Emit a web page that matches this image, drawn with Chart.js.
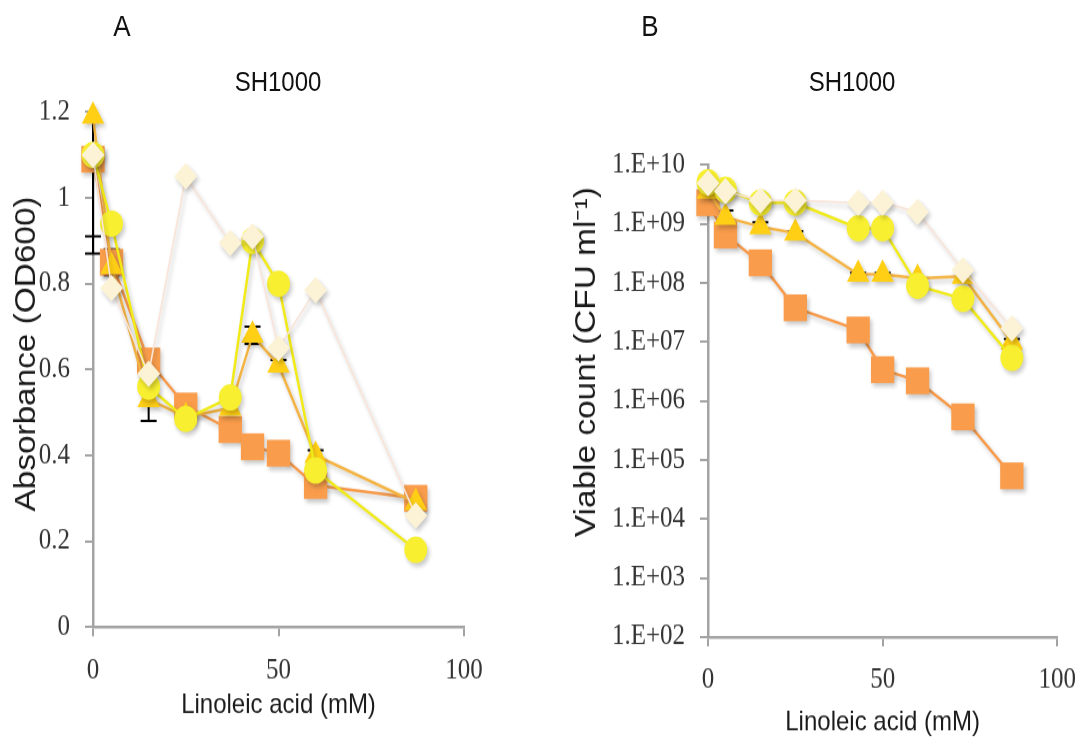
<!DOCTYPE html>
<html>
<head>
<meta charset="utf-8">
<title>SH1000 linoleic acid</title>
<script src="https://cdn.jsdelivr.net/npm/chart.js@4.4.0/dist/chart.umd.min.js"></script>
<style>
  html, body { margin: 0; padding: 0; background: #fff; }
  /* the source figure is stretched vertically, so the whole stage is too */
  #stage { position: absolute; left: 0; top: 0; width: 1091px; height: 643px; transform: scaleY(1.15); transform-origin: 0 0; }
  #stage canvas { position: absolute; top: 0; }
  .lbl { position: absolute; font-family: 'Liberation Sans', Arial, sans-serif; color: #111; text-align: center; white-space: nowrap; }
</style>
</head>
<body>
<div id="stage">
  <div class="lbl" style="left:92px;width:60px;top:8.7px;font-size:26px;line-height:26px">A</div>
  <div class="lbl" style="left:620px;width:60px;top:8.7px;font-size:26px;line-height:26px">B</div>
  <div class="lbl" style="left:208px;width:140px;top:59.3px;font-size:24px;line-height:24px">SH1000</div>
  <div class="lbl" style="left:782px;width:140px;top:59.3px;font-size:24px;line-height:24px">SH1000</div>
  <canvas id="chartA" width="545" height="643" style="left:0"></canvas>
  <canvas id="chartB" width="546" height="643" style="left:545px"></canvas>
</div>
<script>
// Panel A: absorbance
const xAbs = [0, 5, 15, 25, 37, 43, 50, 60, 87];
const absSquare   = [1.09, 0.85, 0.62, 0.515, 0.46, 0.42, 0.405, 0.33, 0.30];
const absTriangle = [1.19, 0.84, 0.53, 0.49, 0.51, 0.68, 0.61, 0.40, 0.29];
const absCircle   = [1.10, 0.94, 0.56, 0.485, 0.535, 0.90, 0.80, 0.365, 0.18];
const absDiamond  = [1.10, 0.79, 0.59, 1.05, 0.895, 0.91, 0.65, 0.785, 0.26];
const absErrSquare   = [null, 0.03, null, null, null, null, null, null, null];
const absErrTriangle = [0.32, null, 0.05, null, null, 0.02, 0.012, 0.012, null];
const absErrCircle   = [0.19, null, null, null, null, null, null, null, null];
const absTicks = [0, 0.2, 0.4, 0.6, 0.8, 1, 1.2];
const absTickLabels = ['0', '0.2', '0.4', '0.6', '0.8', '1', '1.2'];

// Panel B: viable count
const xCfu = [0, 5, 15, 25, 43, 50, 60, 73, 87];
const cfuSquare   = [2.3e9, 6.5e8, 2.2e8, 3.8e7, 1.6e7, 3.4e6, 2.2e6, 5.4e5, 5.4e4];
const cfuTriangle = [3.6e9, 1.3e9, 9.0e8, 7.0e8, 1.4e8, 1.4e8, 1.2e8, 1.3e8, 1.0e7];
const cfuCircle   = [5.1e9, 3.8e9, 2.3e9, 2.3e9, 8.5e8, 8.5e8, 9.0e7, 5.4e7, 5.4e6];
const cfuDiamond  = [4.9e9, 3.6e9, 2.5e9, 2.5e9, 2.3e9, 2.3e9, 1.6e9, 1.65e8, 1.7e7];
const cfuErrTriangle = [null, 4e8, 1.7e8, 6e7, 8e6, 8e6, null, 2e7, 1.2e6];
const cfuTicks = [1e2, 1e3, 1e4, 1e5, 1e6, 1e7, 1e8, 1e9, 1e10];
const cfuTickLabels = ['1.E+02', '1.E+03', '1.E+04', '1.E+05', '1.E+06', '1.E+07', '1.E+08', '1.E+09', '1.E+10'];

const xTicks = [0, 50, 100];

const S = 1.15;         // vertical stretch of the stage
const H = 643;          // canvas height before stretch
const axisGrey = '#a3a3a3';
const textColor = '#333333';
const serif = "'Liberation Serif', 'DejaVu Serif', serif";
const sans = "'Liberation Sans', Arial, sans-serif";

const styles = {
    diamond:  { pointStyle: 'rectRot',  radius: 11.5, fill: '#fcf3d6', line: '#f9e4d8', width: 1.6 },
    circle:   { pointStyle: 'circle',   radius: 11.5, fill: '#f7ef30', line: '#f0ea18', width: 2.5 },
    triangle: { pointStyle: 'triangle', radius: 13,   fill: '#ffcf16', line: '#f4b443', width: 2.5 },
    square:   { pointStyle: 'rect',     radius: 16.5, fill: '#f99d4c', line: '#f79a4a', width: 2.5 }
};

function makeSeries(style, xs, ys, errors) {
    const st = styles[style];
    return {
        data: xs.map((x, i) => ({ x: x, y: ys[i] })),
        errors: errors || null,
        borderColor: st.line,
        borderWidth: st.width,
        backgroundColor: st.fill,
        pointStyle: st.pointStyle,
        pointRadius: st.radius,
        pointHoverRadius: st.radius,
        pointBackgroundColor: st.fill,
        pointBorderColor: st.fill,
        pointBorderWidth: 0,
        tension: 0,
        fill: false,
        clip: false
    };
}

// error bars under the markers, then a soft drop shadow for the series
const errorBarPlugin = {
    id: 'errorBars',
    beforeDatasetsDraw(chart) {
        const ctx = chart.ctx;
        const xs = chart.scales.x;
        const ys = chart.scales.y;
        ctx.save();
        ctx.strokeStyle = '#000';
        ctx.lineWidth = 2;
        chart.data.datasets.forEach(ds => {
            if (!ds.errors) return;
            ds.data.forEach((pt, i) => {
                const e = ds.errors[i];
                if (e == null) return;
                const lo = Math.max(pt.y - e, ys.min);
                const hi = Math.min(pt.y + e, ys.max);
                const px = xs.getPixelForValue(pt.x);
                const y1 = ys.getPixelForValue(lo);
                const y2 = ys.getPixelForValue(hi);
                ctx.beginPath();
                ctx.moveTo(px, y1);
                ctx.lineTo(px, y2);
                if (pt.y - e > ys.min) { ctx.moveTo(px - 8, y1); ctx.lineTo(px + 8, y1); }
                if (pt.y + e < ys.max) { ctx.moveTo(px - 8, y2); ctx.lineTo(px + 8, y2); }
                ctx.stroke();
            });
        });
        ctx.restore();
        ctx.save();
        ctx.shadowColor = 'rgba(0, 0, 0, 0.22)';
        ctx.shadowBlur = 4;
        ctx.shadowOffsetX = 2;
        ctx.shadowOffsetY = 3;
    },
    afterDatasetsDraw(chart) {
        chart.ctx.restore();
    }
};

// vertical axis title placed where the figure has it (not centred on the axis)
const yTitlePlugin = {
    id: 'yTitle',
    afterDraw(chart, args, opts) {
        const ctx = chart.ctx;
        ctx.save();
        ctx.translate(opts.x, opts.y);
        ctx.rotate(-Math.PI / 2);
        ctx.font = '29px ' + sans;
        ctx.fillStyle = '#1a1a1a';
        ctx.textAlign = 'center';
        ctx.textBaseline = 'middle';
        ctx.fillText(opts.text, 0, 0);
        ctx.restore();
    }
};

function makePanel(canvasId, cfg) {
    const ctx = document.getElementById(canvasId);
    const chartTop = cfg.top / S;
    const chartBottom = cfg.bottom / S;

    return new Chart(ctx, {
        type: 'line',
        data: { datasets: cfg.datasets },
        options: {
            responsive: false,
            animation: false,
            events: [],
            layout: { padding: { top: chartTop, right: cfg.padRight, bottom: 0, left: 0 } },
            plugins: {
                legend: { display: false },
                tooltip: { enabled: false },
                title: { display: false },
                yTitle: { text: cfg.yTitle, x: cfg.yTitleX, y: cfg.yTitleY / S }
            },
            scales: {
                x: {
                    type: 'linear',
                    min: 0,
                    max: 100,
                    afterBuildTicks: s => { s.ticks = xTicks.map(v => ({ value: v })); },
                    afterFit: s => { s.height = H - chartBottom; },
                    border: { display: true, color: axisGrey, width: 2.5 },
                    grid: { drawOnChartArea: false, drawTicks: true, tickLength: 8, color: axisGrey, lineWidth: 2 },
                    ticks: {
                        color: textColor,
                        font: { family: serif, size: 25 },
                        padding: 15,
                        maxRotation: 0,
                        autoSkip: false,
                        callback: v => String(v)
                    },
                    title: {
                        display: true,
                        text: 'Linoleic acid (mM)',
                        color: '#1a1a1a',
                        font: { family: sans, size: 24 },
                        padding: { top: 0, bottom: cfg.xTitlePad }
                    }
                },
                y: {
                    type: cfg.yType,
                    min: cfg.yTicks[0],
                    max: cfg.yTicks[cfg.yTicks.length - 1],
                    afterBuildTicks: s => { s.ticks = cfg.yTicks.map(v => ({ value: v })); },
                    afterFit: s => { s.width = cfg.yWidth; },
                    border: { display: true, color: axisGrey, width: 2.5 },
                    grid: { drawOnChartArea: false, drawTicks: true, tickLength: 8, color: axisGrey, lineWidth: 2 },
                    ticks: {
                        color: textColor,
                        font: { family: serif, size: 25 },
                        padding: 15,
                        autoSkip: false,
                        callback: (v, i) => cfg.yLabels[i]
                    },
                    title: { display: false }
                }
            }
        },
        plugins: [errorBarPlugin, yTitlePlugin]
    });
}

// first dataset ends up on top
makePanel('chartA', {
    top: 112, bottom: 627, padRight: 81, yWidth: 93,
    yType: 'linear', yTicks: absTicks, yLabels: absTickLabels,
    yTitle: 'Absorbance (OD600)', yTitleX: 27.4, yTitleY: 354, xTitlePad: 15.6,
    datasets: [
        makeSeries('diamond', xAbs, absDiamond),
        makeSeries('circle', xAbs, absCircle, absErrCircle),
        makeSeries('triangle', xAbs, absTriangle, absErrTriangle),
        makeSeries('square', xAbs, absSquare, absErrSquare)
    ]
});

makePanel('chartB', {
    top: 165, bottom: 637, padRight: 29, yWidth: 163,
    yType: 'logarithmic', yTicks: cfuTicks, yLabels: cfuTickLabels,
    yTitle: 'Viable count (CFU ml\u207B\u00B9)', yTitleX: 42.4, yTitleY: 362, xTitlePad: 0,
    datasets: [
        makeSeries('diamond', xCfu, cfuDiamond),
        makeSeries('circle', xCfu, cfuCircle),
        makeSeries('triangle', xCfu, cfuTriangle, cfuErrTriangle),
        makeSeries('square', xCfu, cfuSquare)
    ]
});
</script>
</body>
</html>
